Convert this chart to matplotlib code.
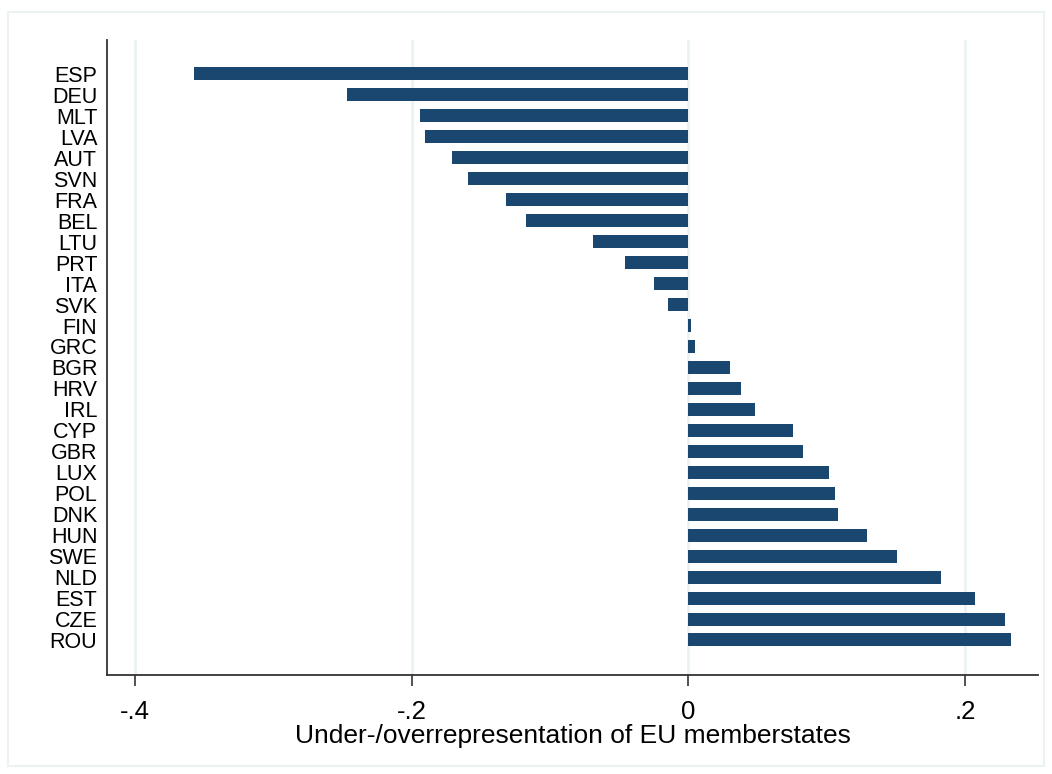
import matplotlib.pyplot as plt
from matplotlib.patches import Rectangle

# Werte pro Land (von oben nach unten)
countries = ["ESP", "DEU", "MLT", "LVA", "AUT", "SVN", "FRA", "BEL", "LTU", "PRT",
             "ITA", "SVK", "FIN", "GRC", "BGR", "HRV", "IRL", "CYP", "GBR", "LUX",
             "POL", "DNK", "HUN", "SWE", "NLD", "EST", "CZE", "ROU"]
values = [-0.357, -0.247, -0.194, -0.190, -0.171, -0.159, -0.132, -0.117, -0.069, -0.046,
          -0.025, -0.015, 0.002, 0.005, 0.030, 0.038, 0.048, 0.076, 0.083, 0.102,
          0.106, 0.108, 0.129, 0.151, 0.183, 0.207, 0.229, 0.233]
xticks = [-0.4, -0.2, 0, 0.2]
xticklabels = ["-.4", "-.2", "0", ".2"]

plt.rcParams['font.family'] = ['Liberation Sans', 'DejaVu Sans']

fig = plt.figure(figsize=(10.52, 7.74), dpi=100)
ax = fig.add_axes([107 / 1052, 1 - 675 / 774, (1038 - 107) / 1052, (675 - 40) / 774])

# heller Rahmen um die Grafik
fig.patches.append(Rectangle((8 / 1052, 1 - 766 / 774), 1036 / 1052, 754 / 774,
                             transform=fig.transFigure, fill=False,
                             edgecolor="#eaf2f3", linewidth=1.5))

pos = list(range(len(countries)))
ax.barh(pos, values, height=0.62, color="#1a476f", zorder=3)

ax.set_ylim(len(countries) - 1 + 1.67, -1.62)
ax.set_yticks(pos)
ax.set_yticklabels(countries, fontsize=15.5)
ax.tick_params(axis="y", length=0, pad=7)

ax.set_xlim(-0.4202, 0.2528)
ax.set_xticks(xticks)
ax.set_xticklabels(xticklabels, fontsize=18.5)
ax.tick_params(axis="x", length=8, width=1.2, color="#333333", pad=10)
ax.set_xlabel("Under-/overrepresentation of EU memberstates", fontsize=19, labelpad=0)

for x in xticks:
    ax.axvline(x, color="#eaf2f3", linewidth=2, zorder=1)

for s in ["top", "right"]:
    ax.spines[s].set_visible(False)
for s in ["left", "bottom"]:
    ax.spines[s].set_color("#333333")
    ax.spines[s].set_linewidth(1.3)

fig.savefig("out.png", dpi=100)
